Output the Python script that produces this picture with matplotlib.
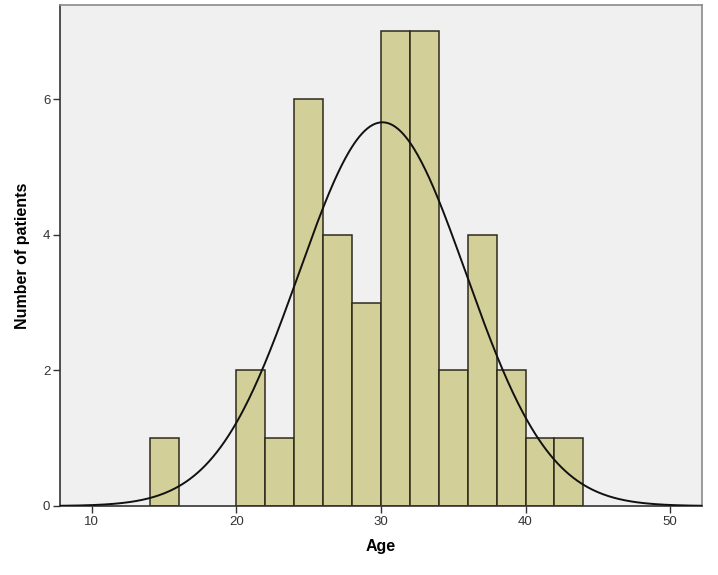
import matplotlib
matplotlib.use("Agg")
import matplotlib.pyplot as plt
import numpy as np

# histogram bins (age, width 2) and patient counts
bin_edges = [14, 16, 18, 20, 22, 24, 26, 28, 30, 32, 34, 36, 38, 40, 42, 44]
counts = [1, 0, 0, 2, 1, 6, 4, 3, 7, 7, 2, 4, 2, 1, 1]

# fitted normal curve parameters
age_mean = 30.1
age_sd = 5.78
n_patients = sum(counts)

plt.rcParams["font.family"] = ["Liberation Sans", "DejaVu Sans"]

fig = plt.figure(figsize=(7.18, 5.75), dpi=100)
ax = fig.add_axes([0.0836, 0.12, 0.894, 0.8713])
ax.set_facecolor("#f0f0f0")

edges = np.array(bin_edges, dtype=float)
widths = np.diff(edges)
nonzero = np.array(counts) > 0
ax.bar(edges[:-1][nonzero], np.array(counts)[nonzero], width=widths[nonzero],
       align="edge", color="#d3cf98", edgecolor="#2e2a1c", linewidth=1.1, zorder=2)

bw = widths[0]
xs = np.linspace(7.8, 52.2, 500)
ys = n_patients * bw / (age_sd * np.sqrt(2 * np.pi)) * np.exp(-0.5 * ((xs - age_mean) / age_sd) ** 2)
ax.plot(xs, ys, color="#111111", linewidth=1.4, zorder=3)

ax.set_xlim(7.8, 52.2)
ax.set_ylim(0, 7.39)
ax.set_xticks([10, 20, 30, 40, 50])
ax.set_yticks([0, 2, 4, 6])
ax.tick_params(axis="both", direction="out", length=5, width=1, labelsize=9.5, color="#333333",
               labelcolor="#333333", pad=2)
for side in ["left", "bottom"]:
    ax.spines[side].set_color("#333333")
    ax.spines[side].set_linewidth(1.2)
for side in ["top", "right"]:
    ax.spines[side].set_color("#8a8a8a")
    ax.spines[side].set_linewidth(1.2)

ax.set_xlabel("Age", fontsize=11.5, fontweight="bold", labelpad=8)
ax.set_ylabel("Number of patients", fontsize=11.5, fontweight="bold", labelpad=9)

fig.savefig("out.png", dpi=100)
